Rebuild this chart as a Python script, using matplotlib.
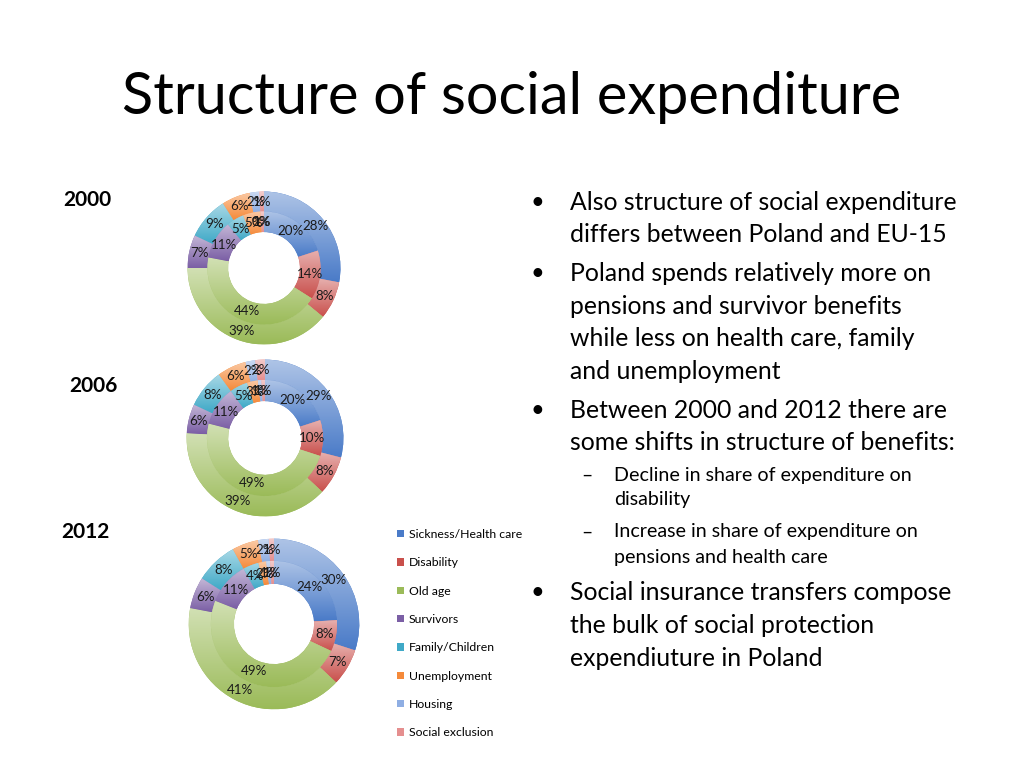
import matplotlib
matplotlib.use("Agg")
import matplotlib.pyplot as plt
import matplotlib.colors as mcolors
import numpy as np

plt.rcParams['font.family'] = ['Lato', 'DejaVu Sans']

# categories and shares (%); outer ring = EU-15, inner ring = Poland
categories = ["Sickness/Health care", "Disability", "Old age", "Survivors",
              "Family/Children", "Unemployment", "Housing", "Social exclusion"]
colors = ["#4A7BC8", "#C9504C", "#9BBB59", "#7B5FA5",
          "#3FA9C7", "#F58A3A", "#8FAEE3", "#E58F8F"]

years = ["2000", "2006", "2012"]
outer_2000 = [28, 8, 39, 7, 9, 6, 2, 1]
inner_2000 = [20, 14, 44, 11, 5, 5, 0, 1]
outer_2006 = [29, 8, 39, 6, 8, 6, 2, 2]
inner_2006 = [20, 10, 49, 11, 5, 3, 1, 1]
outer_2012 = [30, 7, 41, 6, 8, 5, 2, 1]
inner_2012 = [24, 8, 49, 11, 4, 2, 1, 1]

title = "Structure of social expenditure"
bullets = [
    ("main", ["Also structure of social expenditure",
              "differs between Poland and EU-15"]),
    ("main", ["Poland spends relatively more on",
              "pensions and survivor benefits",
              "while less on health care, family",
              "and unemployment"]),
    ("main", ["Between 2000 and 2012 there are",
              "some shifts in structure of benefits:"]),
    ("sub", ["Decline in share of expenditure on", "disability"]),
    ("sub", ["Increase in share of expenditure on", "pensions and health care"]),
    ("main", ["Social insurance transfers compose",
              "the bulk of social protection",
              "expendiuture in Poland"]),
]

W, H = 1024, 768
fig = plt.figure(figsize=(W / 100, H / 100), dpi=100)
fig.patch.set_facecolor("white")
renderer = fig.canvas.get_renderer()


def px(x, y):
    return x / W, 1 - y / H


def fit(txt, width):
    bb = txt.get_window_extent(renderer=renderer)
    txt.set_fontsize(txt.get_fontsize() * width / bb.width)
    return txt.get_fontsize()


def shade(ax, wedge, base):
    # excel-like fill: light at the top of the slice, full colour at the bottom
    ext = wedge.get_path().get_extents()
    if ext.width <= 0 or ext.height <= 0:
        return
    dark = np.array(mcolors.to_rgb(base))
    light = dark + (1 - dark) * 0.55
    k = np.linspace(0, 1, 64)[:, None]
    grad = (light * (1 - k) + dark * k)[:, None, :]
    im = ax.imshow(grad, extent=(ext.x0, ext.x1, ext.y0, ext.y1), origin="upper",
                   aspect="auto", interpolation="bilinear", zorder=wedge.get_zorder() + 0.1)
    im.set_clip_path(wedge)


# title
t = fig.text(*px(512, 97), title, ha="center", va="center", fontsize=36, color="black")
fit(t, 780)

# donuts: (centre x, centre y, radius) in pixels
layout = [(264, 268, 78), (265, 438, 80), (274, 624, 87)]
rings = [(outer_2000, inner_2000), (outer_2006, inner_2006), (outer_2012, inner_2012)]
year_pos = [(87, 200), (93, 386), (85, 532)]

legend_wedges = None
for (cx, cy, r), (outer, inner), yr, ypos in zip(layout, rings, years, year_pos):
    ax = fig.add_axes([(cx - r) / W, 1 - (cy + r) / H, 2 * r / W, 2 * r / H])
    wo, _ = ax.pie(outer, colors=colors, startangle=90, counterclock=False, radius=1.0,
                   wedgeprops=dict(width=0.26, linewidth=0))
    wi, _ = ax.pie(inner, colors=colors, startangle=90, counterclock=False, radius=0.74,
                   wedgeprops=dict(width=0.27, linewidth=0))
    for wedges in (wo, wi):
        for w, c in zip(wedges, colors):
            shade(ax, w, c)
    ax.set_xlim(-1.02, 1.02)
    ax.set_ylim(-1.02, 1.02)
    ax.set_aspect("equal")
    ax.axis("off")
    for wedges, vals, rr in ((wo, outer, 0.87), (wi, inner, 0.60)):
        for w, v in zip(wedges, vals):
            ang = np.deg2rad((w.theta1 + w.theta2) / 2)
            ax.text(rr * np.cos(ang), rr * np.sin(ang), f"{v}%", ha="center", va="center",
                    fontsize=9.6, color="#1a1a1a", zorder=5)
    fig.text(*px(*ypos), yr, ha="center", va="center", fontsize=15, fontweight="bold")
    legend_wedges = wo

leg = fig.legend(legend_wedges, categories, loc="upper left",
                 bbox_to_anchor=px(392, 524), frameon=False, fontsize=8.8,
                 handlelength=0.55, handleheight=0.55, handletextpad=0.45,
                 labelspacing=1.42, borderaxespad=0)

# bullet text
y = 202
main_size = None
sub_size = None
prev = None
for kind, lines in bullets:
    if kind == "main":
        if prev == "main":
            y += 6.5
        elif prev == "sub":
            y += 11
        fig.text(*px(537, y), "\u2022", ha="center", va="center", fontsize=17)
        for line in lines:
            tx = fig.text(*px(570, y), line, ha="left", va="center", fontsize=18)
            if main_size is None:
                main_size = fit(tx, 386)
            else:
                tx.set_fontsize(main_size)
            y += 32.5
    else:
        if prev == "sub":
            y += 7
        for i, line in enumerate(lines):
            if i == 0:
                fig.text(*px(587, y), "\u2013", ha="center", va="center", fontsize=14)
            tx = fig.text(*px(614, y), line, ha="left", va="center", fontsize=14)
            if sub_size is None:
                sub_size = fit(tx, 297)
            else:
                tx.set_fontsize(sub_size)
            y += 25
    prev = kind

fig.savefig("out.png", dpi=100, facecolor="white")
